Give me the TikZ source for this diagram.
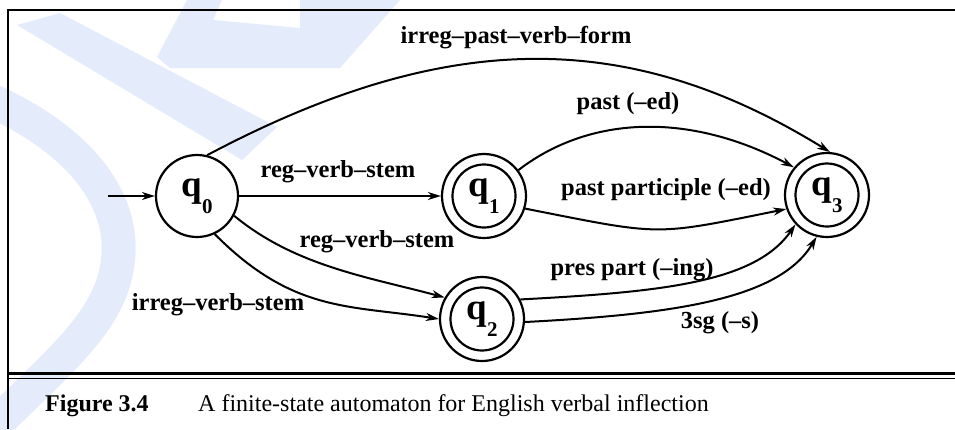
\documentclass[tikz,border=0pt]{standalone}
\usepackage{fontspec}
\setmainfont{Liberation Serif}
\usetikzlibrary{arrows.meta}
\definecolor{wm}{RGB}{228,235,251}
\newcommand\qlab[1]{{\fontsize{37}{40}\selectfont\bfseries q\raisebox{-17pt}{\fontsize{21}{24}\selectfont #1}}}
\begin{document}
\begin{tikzpicture}[x=1pt,y=-1pt,
  state/.style={circle,draw,line width=2.2pt,minimum size=82pt,inner sep=0pt},
  accept/.style={circle,draw,line width=2.2pt,minimum size=84pt,inner sep=0pt,
     path picture={\draw[line width=2.2pt] (path picture bounding box.center) circle (31.5pt);}},
  lbl/.style={font=\fontsize{24.5}{28}\selectfont\bfseries, inner sep=0pt},
  edge/.style={line width=2pt,-{Stealth[length=13pt,width=8pt,inset=4pt]}},
  frame/.style={line width=2pt},
]
\useasboundingbox (0,0) rectangle (955,429);
% watermark
\fill[wm] (17,25) -- (60,13) -- (277,127) -- (242,160) -- cycle;
\fill[wm] (187,0) -- (222,0) -- (213,20) -- (300,28) -- (300,0) -- (400,0) -- (340,68) -- (170,68) -- (157,57) -- cycle;
\draw[wm, line width=34pt] (-10,100) .. controls (80,140) and (125,200) .. (118,260) .. controls (112,320) and (60,360) .. (-5,425);
% frame
\draw[frame, line join=miter] (8,429) -- (8,10) -- (955,10);
\draw[line width=3pt] (8,373.5) -- (955,373.5);
\draw[line width=1.5pt] (8,378.5) -- (955,378.5);
% states
\node[state] (q0) at (197,196) {\qlab{0}};
\node[accept] (q1) at (484,196) {\qlab{1}};
\node[accept] (q2) at (482,319) {\qlab{2}};
\node[accept] (q3) at (827,195) {\qlab{3}};
\coordinate (start) at (108,196);
% edges
\draw[edge] (start) -- (q0);
\draw[edge] (q0) -- (q1);
\draw[edge] (q0.76) .. controls (447,28) and (629,28) .. (q3.86);
\draw[edge] (q1.37) .. controls (590,115) and (690,112) .. (q3.140);
\draw[edge] (q1.-17) .. controls (664,236) and (652,236) .. (q3.-161);
\draw[edge] (q0.-28) .. controls (295,266) and (368,277) .. (q2.150);
\draw[edge] (q0.-65) .. controls (293,313) and (350,305) .. (q2.180);
\draw[edge] (q2.27) .. controls (660,292) and (755,283) .. (q3.-137);
\draw[edge] (q2.-4) .. controls (680,314) and (780,298) .. (q3.-104);
% labels
\node[lbl] (l1) at (516,38) {irreg–past–verb–form};
\node[lbl] (l2) at (628,104) {past (–ed)};
\node[lbl] (l3) at (338,172) {reg–verb–stem};
\node[lbl] (l4) at (666,190) {past participle (–ed)};
\node[lbl] (l5) at (377,242) {reg–verb–stem};
\node[lbl] (l6) at (632,270) {pres part (–ing)};
\node[lbl] (l7) at (218,305) {irreg–verb–stem};
\node[lbl] (l8) at (720,323) {3sg (–s)};
% caption
\node[anchor=base west, inner sep=0pt, font=\fontsize{24}{28}\selectfont\bfseries] (fig) at (45,411) {Figure 3.4};
\node[anchor=base west, inner sep=0pt, font=\fontsize{24}{28}\selectfont] (cap) at (198,411) {A finite-state automaton for English verbal inflection};
\end{tikzpicture}
\end{document}
